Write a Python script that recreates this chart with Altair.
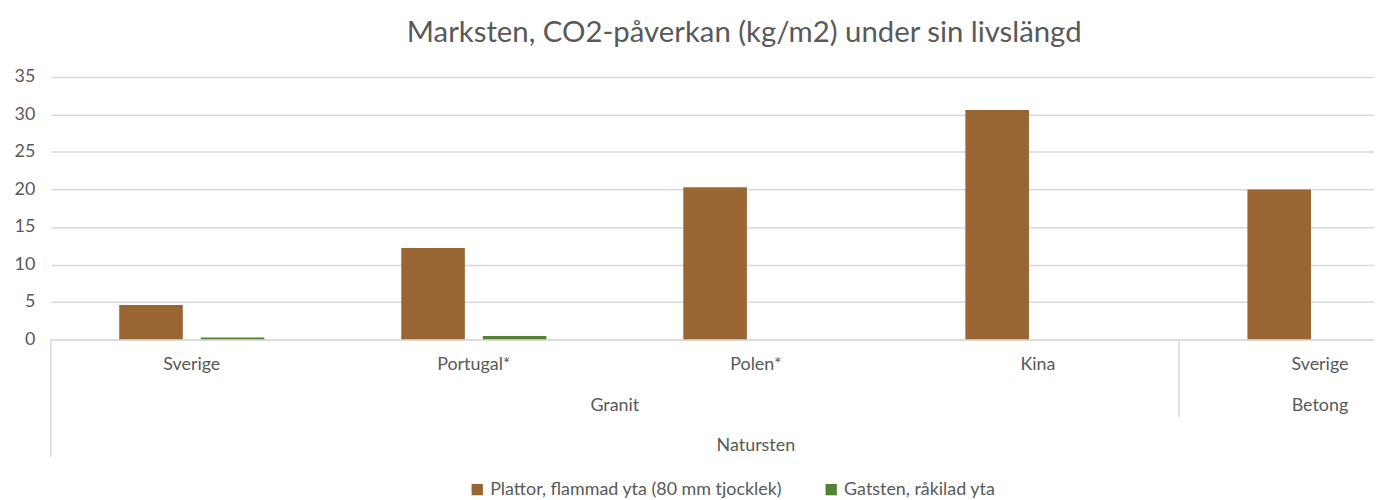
import altair as alt
import pandas as pd

countries = ["Sverige", "Portugal*", "Polen*", "Kina", "Sverige"]
materials = ["Granit", "Granit", "Granit", "Granit", "Betong"]
main_group = ["Natursten", "Natursten", "Natursten", "Natursten", "Natursten"]
series_names = ["Plattor, flammad yta (80 mm tjocklek)", "Gatsten, råkilad yta"]
plattor = [4.6, 12.2, 20.3, 30.6, 20.0]
gatsten = [0.25, 0.45, None, None, None]
y_ticks = [0, 5, 10, 15, 20, 25, 30, 35]
colors = ["#996633", "#548235"]

keys = [f"{m}/{c}" for m, c in zip(materials, countries)]

rows = []
for k, c, m, g, p, s in zip(keys, countries, materials, main_group, plattor, gatsten):
    rows.append({"key": k, "country": c, "material": m, "group": g, "series": series_names[0], "value": p})
    if s is not None:
        rows.append({"key": k, "country": c, "material": m, "group": g, "series": series_names[1], "value": s})
bars_df = pd.DataFrame(rows)
cat_df = pd.DataFrame({"key": keys, "country": countries, "material": materials, "group": main_group})

W = 1331
H = 264
FONT = "Lato"
GRAY = "#595959"

xscale = alt.Scale(domain=keys, range=[0, 1418.5], paddingInner=0, paddingOuter=0)

bars = alt.Chart(bars_df).mark_bar(clip=True).encode(
    x=alt.X("key:N", scale=xscale, sort=keys,
            axis=alt.Axis(title=None, labels=False, ticks=False, domain=True,
                          domainColor="#d9d9d9", domainWidth=1.5, grid=False)),
    xOffset=alt.XOffset("series:N", sort=series_names,
                        scale=alt.Scale(domain=series_names, paddingInner=0.22, paddingOuter=0.84)),
    y=alt.Y("value:Q", scale=alt.Scale(domain=[0, 35], nice=False),
            axis=alt.Axis(title=None, values=y_ticks, domain=False, ticks=False,
                          grid=True, gridColor="#d9d9d9", gridWidth=1.5,
                          labelFont=FONT, labelFontSize=18, labelColor=GRAY, labelPadding=16)),
    color=alt.Color("series:N", sort=series_names,
                    scale=alt.Scale(domain=series_names, range=colors),
                    legend=alt.Legend(title=None, orient="none", direction="horizontal",
                                      legendX=420, legendY=406,
                                      symbolType="square", symbolSize=130, symbolStrokeWidth=0,
                                      labelFont=FONT, labelFontSize=18, labelColor=GRAY,
                                      labelLimit=1000, labelOffset=4, columnPadding=40)),
)

country_text = alt.Chart(cat_df).mark_text(
    font=FONT, fontSize=18, color=GRAY, baseline="alphabetic", align="center"
).encode(
    x=alt.X("key:N", scale=xscale, sort=keys, bandPosition=0.5),
    y=alt.value(H + 31),
    text="country:N",
)

granit_text = alt.Chart(cat_df[cat_df["material"] == "Granit"].iloc[[2]]).mark_text(
    font=FONT, fontSize=18, color=GRAY, baseline="alphabetic", align="center"
).encode(
    x=alt.X("key:N", scale=xscale, sort=keys, bandPosition=0),
    y=alt.value(H + 72),
    text="material:N",
)

betong_text = alt.Chart(cat_df[cat_df["material"] == "Betong"]).mark_text(
    font=FONT, fontSize=18, color=GRAY, baseline="alphabetic", align="center"
).encode(
    x=alt.X("key:N", scale=xscale, sort=keys, bandPosition=0.5),
    y=alt.value(H + 72),
    text="material:N",
)

natursten_text = alt.Chart(cat_df.iloc[[2]]).mark_text(
    font=FONT, fontSize=18, color=GRAY, baseline="alphabetic", align="center"
).encode(
    x=alt.X("key:N", scale=xscale, sort=keys, bandPosition=0.5),
    y=alt.value(H + 112),
    text="group:N",
)

left_line = alt.Chart(cat_df.iloc[[0]]).mark_rule(color="#d9d9d9", strokeWidth=1.5).encode(
    x=alt.X("key:N", scale=xscale, sort=keys, bandPosition=0),
    y=alt.value(H),
    y2=alt.value(H + 118),
)

sep_line = alt.Chart(cat_df[cat_df["material"] == "Betong"]).mark_rule(color="#d9d9d9", strokeWidth=1.5).encode(
    x=alt.X("key:N", scale=xscale, sort=keys, bandPosition=0),
    y=alt.value(H),
    y2=alt.value(H + 78),
)

chart = alt.layer(
    bars, left_line, sep_line, country_text, granit_text, betong_text, natursten_text
).properties(
    width=W,
    height=H,
    title=alt.TitleParams("Marksten, CO2-påverkan (kg/m2) under sin livslängd",
                          font=FONT, fontSize=29.5, fontWeight="normal", color=GRAY,
                          anchor="middle", dx=32, offset=20),
    autosize=alt.AutoSizeParams(type="none"),
    padding={"left": 43, "top": 68, "right": 0, "bottom": 158},
    background="white",
).configure_view(stroke=None)

chart.save("out.html", embed_options={"renderer": "svg", "actions": False})
